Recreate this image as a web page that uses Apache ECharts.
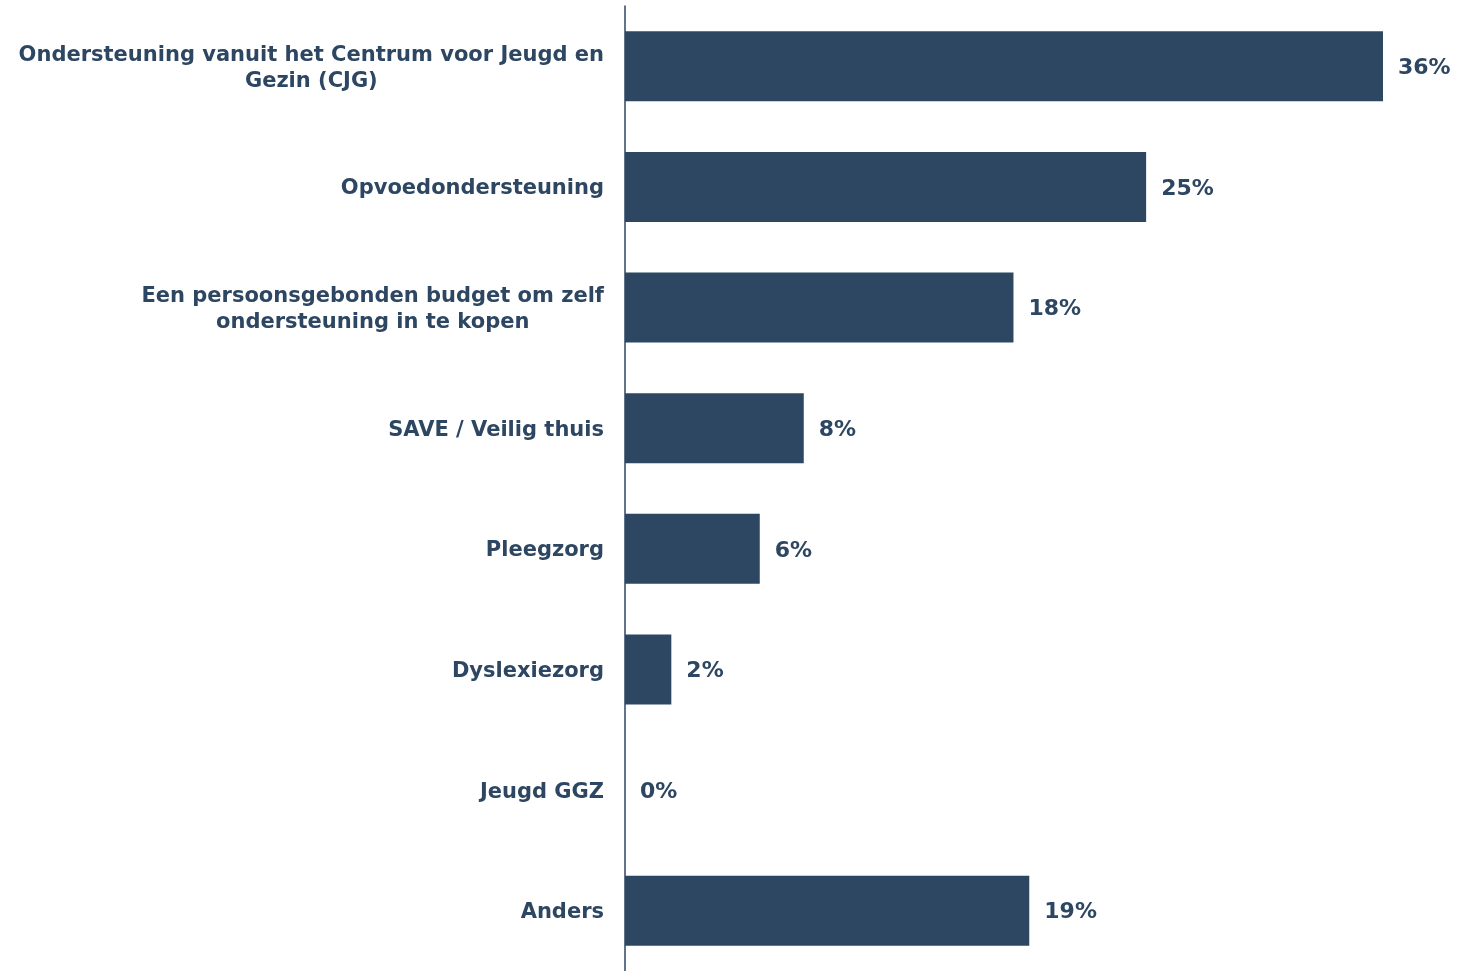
<!DOCTYPE html>
<html>
<head>
<meta charset="utf-8">
<script src="https://cdn.jsdelivr.net/npm/echarts@6/dist/echarts.min.js"></script>
<style>
html,body{margin:0;padding:0;background:#fff;}
#chart{width:1458px;height:971px;}
</style>
</head>
<body>
<div id="chart"></div>
<script>
const categories = [
  "Ondersteuning vanuit het Centrum voor Jeugd en\nGezin (CJG)",
  "Opvoedondersteuning",
  "Een persoonsgebonden budget om zelf\nondersteuning in te kopen",
  "SAVE / Veilig thuis",
  "Pleegzorg",
  "Dyslexiezorg",
  "Jeugd GGZ",
  "Anders"
];
const values = [36, 24.75, 18.45, 8.49, 6.4, 2.2, 0, 19.2];

const color = '#2d4662';
const font = '"DejaVu Sans", Verdana, sans-serif';

const chart = echarts.init(document.getElementById('chart'));
chart.setOption({
  backgroundColor: '#fff',
  animation: false,
  grid: { left: 625, right: 75, top: 6, height: 968, containLabel: false },
  xAxis: {
    type: 'value', min: 0, max: 36,
    show: false
  },
  yAxis: {
    type: 'category',
    inverse: true,
    data: categories,
    axisLine: { show: true, lineStyle: { color: color, width: 1.5 } },
    axisTick: { show: false },
    splitLine: { show: false },
    axisLabel: {
      margin: 21,
      padding: [4, 0, 0, 0],
      formatter: function (v) {
        return v.split('\n').map(function (l) { return '{c|' + l + '}'; }).join('\n');
      },
      rich: {
        c: {
          align: 'center',
          color: color,
          fontFamily: font,
          fontWeight: 'bold',
          fontSize: 21,
          lineHeight: 26
        }
      }
    }
  },
  series: [{
    type: 'bar',
    data: values,
    barWidth: 70,
    itemStyle: { color: color },
    label: {
      show: true,
      position: 'right',
      distance: 15,
      offset: [0, 2],
      color: color,
      fontFamily: font,
      fontWeight: 'bold',
      fontSize: 22,
      formatter: function (p) { return Math.round(p.value) + '%'; }
    }
  }]
});
</script>
</body>
</html>
